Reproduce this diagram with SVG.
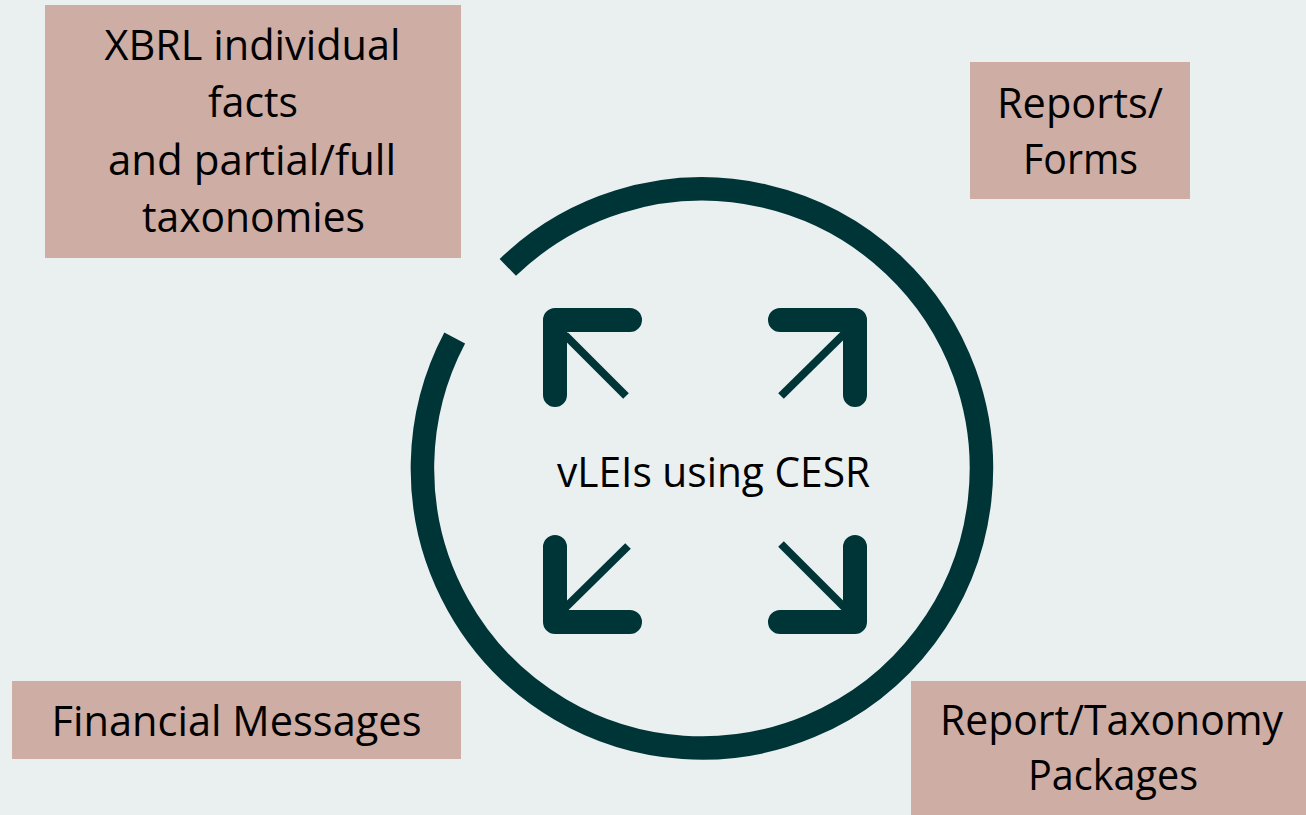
<svg xmlns="http://www.w3.org/2000/svg" width="1306" height="815" viewBox="0 0 1306 815">
  <style>
    .box { fill: #CDADA4; }
    .lbl { font-family: "Open Sans", "Noto Sans", "Liberation Sans", sans-serif; font-size: 42px; fill: #000; text-anchor: middle; }
    .ring { fill: none; stroke: #003538; stroke-width: 23.5; stroke-linecap: butt; }
    .corner { fill: none; stroke: #003538; stroke-width: 24; stroke-linecap: round; stroke-linejoin: round; }
    .diag { fill: none; stroke: #003538; stroke-width: 8; stroke-linecap: butt; }
  </style>
  <rect x="0" y="0" width="1306" height="815" fill="#EAEFF0"/>

  <g id="connectors">
    <path class="ring" d="M 507.8 267.4 A 279.5 279.5 0 1 1 454.7 338.1"/>
  </g>

  <g id="center-icon">
    <path class="corner" d="M630 320 H555 V395"/>
    <path class="diag" d="M565 335 L626 396"/>
    <path class="corner" d="M780 320 H855 V395"/>
    <path class="diag" d="M846 332 L781 396"/>
    <path class="corner" d="M555 547 V622 H630"/>
    <path class="diag" d="M565 608 L628 546"/>
    <path class="corner" d="M855 547 V622 H780"/>
    <path class="diag" d="M846 609 L781 544"/>
    <text class="lbl" x="713.5" y="487" textLength="313" lengthAdjust="spacingAndGlyphs">vLEIs using CESR</text>
  </g>

  <g id="node-xbrl">
    <rect class="box" x="45" y="5" width="416" height="253"/>
    <text class="lbl" x="252.5" y="60" textLength="296" lengthAdjust="spacingAndGlyphs">XBRL individual</text>
    <text class="lbl" x="253" y="117" textLength="90" lengthAdjust="spacingAndGlyphs">facts</text>
    <text class="lbl" x="252" y="175" textLength="288" lengthAdjust="spacingAndGlyphs">and partial/full</text>
    <text class="lbl" x="253.5" y="232" textLength="223" lengthAdjust="spacingAndGlyphs">taxonomies</text>
  </g>

  <g id="node-reports">
    <rect class="box" x="970" y="62" width="220" height="137"/>
    <text class="lbl" x="1080" y="118" textLength="166" lengthAdjust="spacingAndGlyphs">Reports/</text>
    <text class="lbl" x="1080.5" y="174" textLength="115" lengthAdjust="spacingAndGlyphs">Forms</text>
  </g>

  <g id="node-financial">
    <rect class="box" x="12" y="681" width="449" height="78"/>
    <text class="lbl" x="236.5" y="736" textLength="370" lengthAdjust="spacingAndGlyphs">Financial Messages</text>
  </g>

  <g id="node-packages">
    <rect class="box" x="911" y="681" width="401" height="140"/>
    <text class="lbl" x="1111.5" y="735" textLength="343" lengthAdjust="spacingAndGlyphs">Report/Taxonomy</text>
    <text class="lbl" x="1113" y="790" textLength="170" lengthAdjust="spacingAndGlyphs">Packages</text>
  </g>
</svg>
